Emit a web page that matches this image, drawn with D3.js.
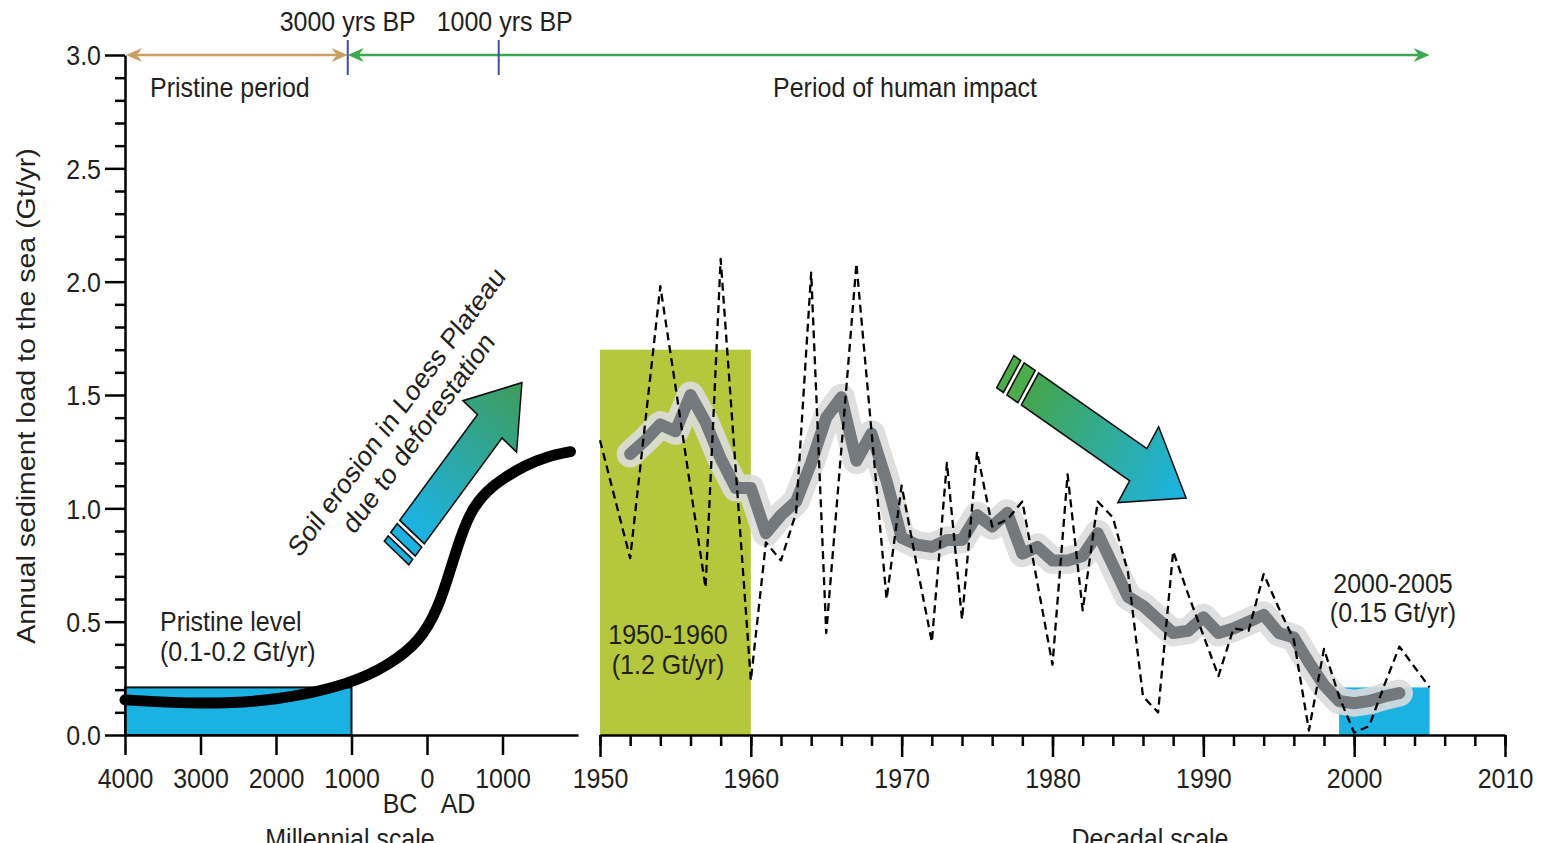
<!DOCTYPE html>
<html>
<head>
<meta charset="utf-8">
<script src="https://cdn.jsdelivr.net/npm/d3@7"></script>
<style>
  body { margin: 0; background: #fff; }
  text { font-family: "Liberation Sans", Arial, Helvetica, sans-serif; fill: #231f20; }
</style>
</head>
<body>
<svg id="chart" width="1547" height="843"></svg>
<script>
// ---- Millennial scale: sediment load to the sea (Gt/yr) ----
const milYears = [-4000, -3000, -2000, -1000, -500, -100, 150, 300, 450, 600, 800, 1000, 1300, 1600, 1900];
const milLoad  = [0.155, 0.135, 0.15, 0.225, 0.31, 0.41, 0.56, 0.72, 0.88, 1.00, 1.08, 1.13, 1.19, 1.23, 1.25];
const milTicks = [-4000, -3000, -2000, -1000, 0, 1000];
const milTickLabels = ["4000", "3000", "2000", "1000", "0", "1000"];

// ---- Decadal scale: annual observations (Gt/yr) ----
const decYears = [1950,1951,1952,1953,1954,1955,1956,1957,1958,1959,
                  1960,1961,1962,1963,1964,1965,1966,1967,1968,1969,
                  1970,1971,1972,1973,1974,1975,1976,1977,1978,1979,
                  1980,1981,1982,1983,1984,1985,1986,1987,1988,1989,
                  1990,1991,1992,1993,1994,1995,1996,1997,1998,1999,
                  2000,2001,2002,2003,2004,2005];
const decLoad  = [1.30,1.04,0.78,1.38,1.98,1.54,1.09,0.65,2.10,1.17,
                  0.24,0.85,0.77,0.98,2.04,0.45,1.26,2.08,1.34,0.60,
                  1.10,0.75,0.41,1.20,0.51,1.25,0.92,0.95,1.03,0.67,
                  0.31,1.15,0.55,1.03,0.96,0.72,0.17,0.10,0.81,0.62,
                  0.44,0.26,0.47,0.46,0.71,0.56,0.42,0.02,0.38,0.17,
                  0.01,0.04,0.22,0.39,0.30,0.21];

// ---- Decadal scale: smoothed trend (Gt/yr) ----
const smoothYears = [1952,1953,1954,1955,1956,1957,1958,1959,1960,1961,
                     1962,1963,1964,1965,1966,1967,1968,1969,1970,1971,
                     1972,1973,1974,1975,1976,1977,1978,1979,1980,1981,
                     1982,1983,1984,1985,1986,1987,1988,1989,1990,1991,
                     1992,1993,1994,1995,1996,1997,1998,1999,2000,2001,
                     2002,2003];
const smoothLoad  = [1.24,1.30,1.37,1.34,1.50,1.38,1.22,1.09,1.09,0.89,
                     0.97,1.03,1.20,1.40,1.49,1.21,1.33,1.12,0.87,0.84,
                     0.83,0.86,0.86,0.97,0.92,0.98,0.80,0.83,0.77,0.77,
                     0.79,0.89,0.75,0.61,0.57,0.51,0.45,0.46,0.52,0.45,
                     0.47,0.50,0.53,0.45,0.43,0.32,0.22,0.15,0.14,0.15,
                     0.17,0.185];

// ---- Reference periods ----
const pristineSpan = [-4000, -1000];   // BC years, millennial axis
const pristineLevel = 0.21;
const era1950 = [1950, 1960];
const era1950Top = 1.7;
const era2000 = [1999, 2005];
const era2000Top = 0.21;
const bpMarks = [-1050, 950];           // 3000 and 1000 yrs BP
const bpLabels = ["3000 yrs BP", "1000 yrs BP"];
const yMajor = [0, 0.5, 1.0, 1.5, 2.0, 2.5, 3.0];
const yMinor = [0.1,0.2,0.3,0.4,0.6,0.7,0.8,0.9,1.1,1.2,1.3,1.4,1.6,1.7,1.8,1.9,2.1,2.2,2.3,2.4,2.6,2.7,2.8,2.9];
const decMajor = [1950, 1960, 1970, 1980, 1990, 2000, 2010];

const SY = 1.14;   // vertical stretch applied to lettering
const FS = 25;

const svg = d3.select("#chart");
const defs = svg.append("defs");

// scales
const y = d3.scaleLinear().domain([0, 3]).range([735, 55]);
const xMil = d3.scaleLinear().domain([-4000, 2000]).range([125, 578]);
const xDec = d3.scaleLinear().domain([1950, 2010]).range([600, 1505]);

// gradients for the two trend arrows
function grad(id, c0, c1) {
  const g = defs.append("linearGradient").attr("id", id)
    .attr("x1", 0).attr("y1", 0).attr("x2", 1).attr("y2", 0);
  g.append("stop").attr("offset", "0%").attr("stop-color", c0);
  g.append("stop").attr("offset", "100%").attr("stop-color", c1);
}
grad("gUp", "#1bb3e6", "#3f9c5a");
grad("gDown", "#45a54f", "#1bb3e6");

// lettering helper (stretched vertically)
function label(x, yy, str, anchor = "start", size = FS, rot = 0) {
  const g = svg.append("g").attr("transform", `translate(${x},${yy}) scale(1,${SY}) rotate(${rot})`);
  g.append("text").attr("text-anchor", anchor).attr("font-size", size).text(str);
  return g;
}

// ---- shaded periods ----
svg.append("rect")
  .attr("x", xDec(era1950[0])).attr("y", y(era1950Top))
  .attr("width", xDec(era1950[1]) - xDec(era1950[0]))
  .attr("height", y(0) - y(era1950Top))
  .attr("fill", "#b5c73c");

svg.append("rect")
  .attr("x", xDec(era2000[0])).attr("y", y(era2000Top))
  .attr("width", xDec(era2000[1]) - xDec(era2000[0]))
  .attr("height", y(0) - y(era2000Top))
  .attr("fill", "#1bb1e3");

svg.append("rect")
  .attr("x", xMil(pristineSpan[0])).attr("y", y(pristineLevel))
  .attr("width", xMil(pristineSpan[1]) - xMil(pristineSpan[0]))
  .attr("height", y(0) - y(pristineLevel))
  .attr("fill", "#1bb1e3").attr("stroke", "#111").attr("stroke-width", 2);

// ---- millennial curve ----
const milLine = d3.line().x((d, i) => xMil(milYears[i])).y(d => y(d)).curve(d3.curveBasis);
svg.append("path").datum(milLoad).attr("d", milLine)
  .attr("fill", "none").attr("stroke", "#000").attr("stroke-width", 11)
  .attr("stroke-linecap", "round").attr("stroke-linejoin", "round");

// ---- decadal smoothed trend ----
const smLine = d3.line().x((d, i) => xDec(smoothYears[i])).y(d => y(d)).curve(d3.curveLinear);
svg.append("path").datum(smoothLoad).attr("d", smLine)
  .attr("fill", "none").attr("stroke", "#dcdcdc").attr("stroke-width", 27)
  .attr("stroke-linecap", "round").attr("stroke-linejoin", "round").attr("opacity", 0.9);
svg.append("path").datum(smoothLoad).attr("d", smLine)
  .attr("fill", "none").attr("stroke", "#74797d").attr("stroke-width", 12)
  .attr("stroke-linecap", "round").attr("stroke-linejoin", "round");

// ---- decadal annual series ----
const decLine = d3.line().x((d, i) => xDec(decYears[i])).y(d => y(d));
svg.append("path").datum(decLoad).attr("d", decLine)
  .attr("fill", "none").attr("stroke", "#000").attr("stroke-width", 2.3)
  .attr("stroke-dasharray", "8,5").attr("stroke-linejoin", "round");

// ---- trend arrows ----
function trendArrow(tx, ty, ang, L, sw, hw, hl, stripes, fillId, stripeFill) {
  const g = svg.append("g").attr("transform", `translate(${tx},${ty}) scale(1,${SY}) rotate(${ang})`);
  const s = sw / 2, h = hw / 2;
  const pts = [[0, -s], [L - hl, -s], [L - hl, -h], [L, 0], [L - hl, h], [L - hl, s], [0, s]];
  g.append("path").attr("d", d3.line()(pts) + "Z")
    .attr("fill", `url(#${fillId})`).attr("stroke", "#111").attr("stroke-width", 1.5)
    .attr("stroke-linejoin", "miter");
  stripes.forEach(([a, b]) => {
    g.append("rect").attr("x", -b).attr("y", -s).attr("width", b - a).attr("height", sw)
      .attr("fill", stripeFill).attr("stroke", "#111").attr("stroke-width", 1.5);
  });
}
trendArrow(412, 532, -50, 171, 32, 70, 50, [[4, 14], [18, 24]], "gUp", "#1bb1e3");
trendArrow(1030, 389, 31.5, 183, 33, 78, 56, [[4, 17], [21, 29]], "gDown", "#4cac4c");

// ---- axes ----
const axisStyle = sel => {
  sel.selectAll("path.domain").attr("stroke", "#000").attr("stroke-width", 2.5);
  sel.selectAll(".tick line").attr("stroke", "#000").attr("stroke-width", 2.5);
};

// y axis
const yAxG = svg.append("g").attr("transform", `translate(${xMil(-4000)},0)`);
yAxG.call(d3.axisLeft(y).tickValues(yMajor).tickSize(20).tickSizeOuter(0).tickFormat(d3.format(".1f")));
yAxG.append("g").call(d3.axisLeft(y).tickValues(yMinor).tickSize(10).tickSizeOuter(0).tickFormat(""))
  .call(g => g.select(".domain").remove());
axisStyle(yAxG);
yAxG.selectAll("text").attr("font-size", FS).attr("font-family", null).attr("fill", "#231f20")
  .attr("x", -24).attr("dy", 0).attr("y", 9.8 / SY).attr("transform", `scale(1,${SY})`);

// millennial x axis
const mAxG = svg.append("g").attr("transform", `translate(0,${y(0)})`);
mAxG.call(d3.axisBottom(xMil).tickValues(milTicks).tickSize(20).tickSizeOuter(0)
  .tickFormat((d, i) => milTickLabels[i]));
axisStyle(mAxG);
mAxG.selectAll("text").attr("font-size", FS).attr("font-family", null).attr("fill", "#231f20")
  .attr("dy", 0).attr("y", 53 / SY).attr("transform", `scale(1,${SY})`);

// decadal x axis
const dAxG = svg.append("g").attr("transform", `translate(0,${y(0)})`);
dAxG.call(d3.axisBottom(xDec).tickValues(decMajor).tickSize(22).tickSizeOuter(0).tickFormat(d3.format("d")));
dAxG.append("g").call(d3.axisBottom(xDec).ticks(30).tickSize(11).tickSizeOuter(0).tickFormat(""))
  .call(g => g.select(".domain").remove());
axisStyle(dAxG);
dAxG.selectAll("text").attr("font-size", FS).attr("font-family", null).attr("fill", "#231f20")
  .attr("dy", 0).attr("y", 53 / SY).attr("transform", `scale(1,${SY})`);

// ---- period bar along the top ----
const yTop = y(3.0);
function head(x, dir, color) {
  // barbed arrowhead, tip at x, pointing in dir (+1 right, -1 left)
  const p = [[x, yTop], [x - dir * 16, yTop - 7], [x - dir * 11, yTop], [x - dir * 16, yTop + 7]];
  svg.append("path").attr("d", d3.line()(p) + "Z").attr("fill", color);
}
const tan = "#c9a062", grn = "#3aa94f";
svg.append("line").attr("x1", xMil(-4000) + 4).attr("x2", xMil(bpMarks[0]) - 6)
  .attr("y1", yTop).attr("y2", yTop).attr("stroke", tan).attr("stroke-width", 2.5);
head(xMil(-4000) + 1, -1, tan);
head(xMil(bpMarks[0]), 1, tan);
svg.append("line").attr("x1", xMil(bpMarks[0]) + 6).attr("x2", xDec(2005) - 6)
  .attr("y1", yTop).attr("y2", yTop).attr("stroke", grn).attr("stroke-width", 2.5);
head(xMil(bpMarks[0]), -1, grn);
head(xDec(2005), 1, grn);
bpMarks.forEach(b => {
  svg.append("line").attr("x1", xMil(b)).attr("x2", xMil(b)).attr("y1", yTop - 15).attr("y2", yTop + 20)
    .attr("stroke", "#3b50a3").attr("stroke-width", 2);
});

// ---- lettering ----
label(xMil(bpMarks[0]), 31, bpLabels[0], "middle");
label(xMil(bpMarks[1]) + 6, 31, bpLabels[1], "middle");
label(150, 97, "Pristine period");
label(905, 97, "Period of human impact", "middle");

label(160, 631, "Pristine level");
label(160, 661, "(0.1-0.2 Gt/yr)");

label(668, 644, "1950-1960", "middle");
label(668, 674, "(1.2 Gt/yr)", "middle");

label(1393, 593, "2000-2005", "middle");
label(1393, 622, "(0.15 Gt/yr)", "middle");

label(403, 418, "Soil erosion in Loess Plateau", "middle", FS, -50);
label(425, 439, "due to deforestation", "middle", FS, -50);

label(400, 813, "BC", "middle");
label(458, 813, "AD", "middle");
label(350, 848, "Millennial scale", "middle");
label(1150, 848, "Decadal scale", "middle");

// y axis title
svg.append("g").attr("transform", `translate(35,396) rotate(-90) scale(${SY},1)`)
  .append("text").attr("text-anchor", "middle").attr("font-size", FS)
  .text("Annual sediment load to the sea (Gt/yr)");
</script>
</body>
</html>
